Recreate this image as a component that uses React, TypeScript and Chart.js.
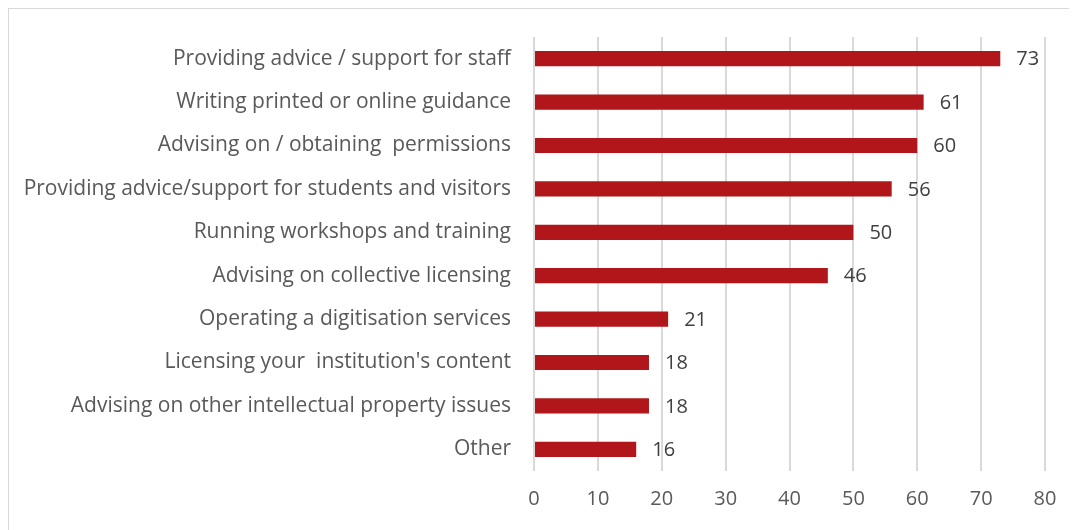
import React, { useEffect, useRef } from "react";
import { Chart, registerables } from "chart.js";

Chart.register(...registerables);

const categories = [
  "Providing advice / support for staff",
  "Writing printed or online guidance",
  "Advising on / obtaining  permissions",
  "Providing advice/support for students and visitors",
  "Running workshops and training",
  "Advising on collective licensing",
  "Operating a digitisation services",
  "Licensing your  institution's content",
  "Advising on other intellectual property issues",
  "Other",
];
const values = [73, 61, 60, 56, 50, 46, 21, 18, 18, 16];
const xTicks = [0, 10, 20, 30, 40, 50, 60, 70, 80];

const FONT = "'Open Sans', sans-serif";

const valueLabels = {
  id: "valueLabels",
  afterDatasetsDraw(chart: any) {
    const { ctx } = chart;
    const meta = chart.getDatasetMeta(0);
    ctx.save();
    ctx.fillStyle = "#404040";
    ctx.font = `20px ${FONT}`;
    ctx.textAlign = "left";
    ctx.textBaseline = "middle";
    meta.data.forEach((bar: any, i: number) => {
      ctx.fillText(String(values[i]), bar.x + 16, bar.y + 1);
    });
    ctx.restore();
  },
};

export default function App() {
  const ref = useRef<HTMLCanvasElement | null>(null);
  useEffect(() => {
    if (!ref.current) return;
    const chart = new Chart(ref.current, {
      type: "bar",
      data: {
        labels: categories,
        datasets: [
          {
            data: values,
            backgroundColor: "#B0161A",
            borderWidth: 0,
            categoryPercentage: 1,
            barPercentage: 0.35,
          },
        ],
      },
      options: {
        indexAxis: "y",
        animation: false,
        responsive: false,
        maintainAspectRatio: false,
        layout: { padding: { top: 28, right: 31, left: 0, bottom: 0 } },
        plugins: { legend: { display: false }, tooltip: { enabled: false } },
        scales: {
          x: {
            min: 0,
            max: 80,
            afterBuildTicks: (scale: any) => {
              scale.ticks = xTicks.map((v) => ({ value: v }));
            },
            afterFit: (scale: any) => {
              scale.height = 58;
            },
            grid: { color: "#d9d9d9", lineWidth: 2, drawTicks: false },
            border: { display: false },
            ticks: {
              color: "#595959",
              font: { family: FONT, size: 20 },
              padding: 16,
            },
          },
          y: {
            afterFit: (scale: any) => {
              scale.width = 525;
              scale.paddingTop = 0;
              scale.paddingBottom = 0;
            },
            grid: { display: false, drawTicks: false },
            border: { display: false },
            ticks: {
              color: "#595959",
              font: { family: FONT, size: 21 },
              padding: 23,
              autoSkip: false,
            },
          },
        },
      },
      plugins: [valueLabels],
    });
    return () => chart.destroy();
  }, []);
  return (
    <div
      style={{
        width: 1080,
        height: 540,
        borderLeft: "2px solid #d9d9d9",
        borderTop: "2px solid #d9d9d9",
        position: "relative",
        marginLeft: -1,
        marginTop: -1,
      }}
    >
      <canvas ref={ref} width={1067} height={520} style={{ display: "block" }} />
    </div>
  );
}
